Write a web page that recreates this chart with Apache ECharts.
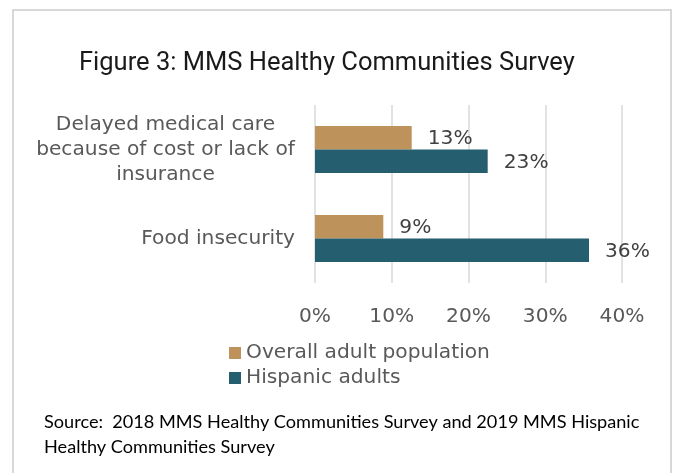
<!DOCTYPE html>
<html>
<head>
<meta charset="utf-8">
<script src="https://cdn.jsdelivr.net/npm/echarts@6/dist/echarts.min.js"></script>
<style>
html,body{margin:0;padding:0;background:#fff;}
#chart{width:675px;height:473px;}
</style>
</head>
<body>
<div id="chart"></div>
<script>
const titleText = 'Figure 3: MMS Healthy Communities Survey';
const sourceLines = ['Source:  2018 MMS Healthy Communities Survey and 2019 MMS Hispanic', 'Healthy Communities Survey'];
const categories = ['Delayed medical care\nbecause of cost or lack of\ninsurance', 'Food insecurity'];
const seriesNames = ['Overall adult population', 'Hispanic adults'];
const overallAdult = [12.6, 8.9];
const hispanicAdults = [22.5, 35.7];
const xTickValues = [0, 10, 20, 30, 40];

function fitSize(text, family, target) {
  const c = document.createElement('canvas').getContext('2d');
  c.font = '100px ' + family;
  return 100 * target / c.measureText(text).width;
}
const titleFont = 'Roboto';
const titleSize = fitSize(titleText, titleFont, 496);
const srcFont = 'Lato';
const srcSize = fitSize(sourceLines[0], srcFont, 596);

const labelFont = 'DejaVu Sans';
const catSize = fitSize('because of cost or lack of', labelFont, 259);
const chart = echarts.init(document.getElementById('chart'), null, {renderer: 'canvas'});
chart.setOption({
  animation: false,
  backgroundColor: '#ffffff',
  graphic: [
    {type: 'rect', shape: {x: 13, y: 10, width: 658, height: 480}, style: {fill: 'none', stroke: '#cccccc', lineWidth: 1.5}, silent: true},
    {type: 'text', x: 79, y: 64, style: {text: titleText, font: titleSize.toFixed(2) + 'px ' + titleFont, fill: '#1a1a1a', textVerticalAlign: 'middle'}},
    {type: 'text', x: 44, y: 434.5, style: {text: sourceLines.join('\n'), fontFamily: srcFont, fontSize: srcSize, lineHeight: 25, fill: '#000000', textVerticalAlign: 'middle'}}
  ],
  grid: {left: 315, right: 53, top: 105, bottom: 190},
  legend: {
    orient: 'vertical', left: 224, top: 337, itemWidth: 12, itemHeight: 12, itemGap: 3, icon: 'rect',
    textStyle: {fontFamily: labelFont, fontSize: catSize, color: '#595959', lineHeight: 22},
    data: seriesNames
  },
  xAxis: {
    type: 'value', min: xTickValues[0], max: xTickValues[xTickValues.length - 1], interval: xTickValues[1] - xTickValues[0],
    axisLine: {show: false}, axisTick: {show: false},
    splitLine: {show: true, lineStyle: {color: '#d9d9d9', width: 1.5}},
    axisLabel: {formatter: '{value}%', fontFamily: labelFont, fontSize: catSize, color: '#595959', margin: 24}
  },
  yAxis: {
    type: 'category', inverse: true, data: categories,
    axisLine: {show: false}, axisTick: {show: false},
    axisLabel: {
      margin: 20,
      formatter: function (v) {
        if (v.indexOf('\n') >= 0) return v.split('\n').map(function (s) { return '{c|' + s + '}'; }).join('\n');
        return '{r|' + v + '}';
      },
      rich: {
        c: {width: 259, align: 'center', fontFamily: labelFont, fontSize: catSize, lineHeight: 25, color: '#595959'},
        r: {fontFamily: labelFont, fontSize: catSize, lineHeight: 25, color: '#595959'}
      }
    }
  },
  series: [
    {name: seriesNames[0], type: 'bar', data: overallAdult, barWidth: 23.5, barGap: '0%',
     itemStyle: {color: '#BD925B'},
     label: {show: true, position: 'right', distance: 16, offset: [0, 1.5], fontFamily: labelFont, fontSize: catSize, color: '#404040',
       formatter: function (p) { return Math.round(p.value) + '%'; }}},
    {name: seriesNames[1], type: 'bar', data: hispanicAdults, barWidth: 23.5, barGap: '0%',
     itemStyle: {color: '#255E6E'},
     label: {show: true, position: 'right', distance: 16, offset: [0, 1.5], fontFamily: labelFont, fontSize: catSize, color: '#404040',
       formatter: function (p) { return Math.round(p.value) + '%'; }}}
  ]
});
</script>
</body>
</html>
